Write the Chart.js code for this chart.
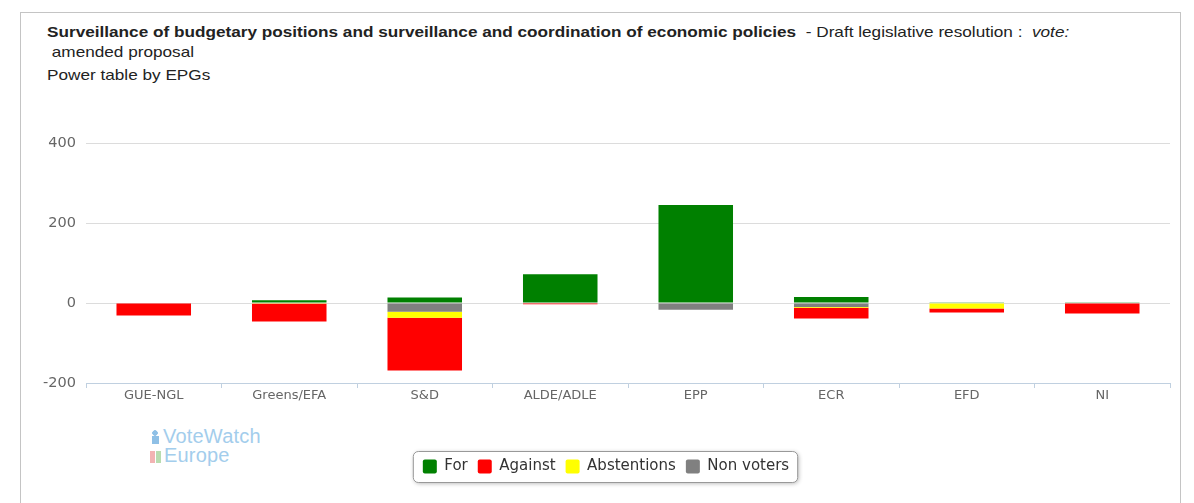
<!DOCTYPE html>
<html>
<head>
<meta charset="utf-8">
<title>Power table by EPGs</title>
<script src="https://cdn.jsdelivr.net/npm/chart.js@4"></script>
<style>
  body { margin: 0; background: #fff; }
  #wrap { position: relative; width: 1194px; height: 503px; overflow: hidden; }
  #frame { position: absolute; left: 20px; top: 12px; width: 1161px; height: 520px;
           border: 1px solid #c4c4c4; box-sizing: border-box; }
  #box { position: absolute; left: 0; top: 0; width: 1194px; height: 503px; }
  .txt { position: absolute; left: 47px; font-family: "Liberation Sans", Arial, sans-serif;
         font-size: 15px; color: #222; white-space: nowrap;
         transform: scaleX(1.145); transform-origin: 0 0; }
  #t1 { top: 23px; }
  #t2 { top: 43px; }
  #t3 { top: 66px; }
  #logo { position: absolute; left: 150px; top: 427px; font-family: "Liberation Sans", Arial, sans-serif;
          font-size: 20px; line-height: 19px; color: #a3cdec; letter-spacing: 0.2px; }
  #logo .ico { display: inline-block; width: 11px; height: 14px; margin-right: 2px; vertical-align: -1px; }
  #logo .man { background: radial-gradient(circle at 5px 3px, #8fc0e6 2.5px, transparent 3px),
                           linear-gradient(#8fc0e6, #8fc0e6) 2px 6px / 7px 8px no-repeat; }
  #logo .flag { background: linear-gradient(90deg, #f2b3b3 0 5px, transparent 5px 6px, #b8dcb0 6px 11px);
                height: 12px; margin-right: 3px; }
</style>
</head>
<body>
<div id="wrap">
  <div id="frame"></div>
  <div class="txt" id="t1"><b>Surveillance of budgetary positions and surveillance and coordination of economic policies</b>&nbsp; - Draft legislative resolution :&nbsp; <i>vote:</i></div>
  <div class="txt" id="t2">&nbsp;amended proposal</div>
  <div class="txt" id="t3">Power table by EPGs</div>
  <div id="logo"><span class="ico man"></span>VoteWatch<br><span class="ico flag"></span>Europe</div>
  <div id="box"><canvas id="chart"></canvas></div>
</div>
<script>
// Political groups and their votes
const categories = ['GUE-NGL', 'Greens/EFA', 'S&D', 'ALDE/ADLE', 'EPP', 'ECR', 'EFD', 'NI'];
const forVotes     = [0, 7, 14, 72, 245, 15, 2, 2];
const againstVotes = [31, 44, 132, 3, 0, 27, 10, 26];
const abstentions  = [0, 2, 15, 0, 0, 2, 14, 0];
const nonVoters    = [0, 0, 22, 0, 17, 10, 0, 0];
const legendOrder  = ['For', 'Against', 'Abstentions', 'Non voters'];

// rounded frame with shadow behind the legend items
const legendBox = {
  id: 'legendBox',
  beforeDraw(chart) {
    const boxes = chart.legend.legendHitBoxes;
    if (!boxes || !boxes.length) return;
    const first = boxes[0], last = boxes[boxes.length - 1];
    const x = first.left - 10, y = first.top - 8;
    const w = last.left + last.width - first.left + 18, h = first.height + 16;
    const ctx = chart.ctx;
    ctx.save();
    ctx.shadowColor = 'rgba(0,0,0,0.3)';
    ctx.shadowBlur = 4;
    ctx.shadowOffsetX = 1;
    ctx.shadowOffsetY = 1;
    ctx.fillStyle = '#fff';
    ctx.strokeStyle = '#999';
    ctx.lineWidth = 1;
    ctx.beginPath();
    ctx.roundRect(x + 0.5, y + 0.5, w, h, 5);
    ctx.fill();
    ctx.shadowColor = 'transparent';
    ctx.stroke();
    ctx.restore();
  }
};

const ctx = document.getElementById('chart').getContext('2d');
new Chart(ctx, {
  type: 'bar',
  data: {
    labels: categories,
    // negative stack grows from zero: non voters, abstentions, then against
    datasets: [
      { label: 'For', data: forVotes, backgroundColor: '#008000' },
      { label: 'Non voters', data: nonVoters.map(v => -v), backgroundColor: '#808080' },
      { label: 'Abstentions', data: abstentions.map(v => -v), backgroundColor: '#ffff00' },
      { label: 'Against', data: againstVotes.map(v => -v), backgroundColor: '#ff0000' },
    ],
  },
  options: {
    responsive: true,
    maintainAspectRatio: false,
    animation: false,
    layout: { padding: { top: 143, right: 24, bottom: 19, left: 42 } },
    datasets: { bar: { categoryPercentage: 0.55, barPercentage: 1, borderWidth: 0 } },
    scales: {
      x: {
        stacked: true,
        grid: { display: true, drawOnChartArea: false, drawTicks: true, tickLength: 5, color: '#c0d0e0', offset: true },
        border: { display: true, color: '#c0d0e0' },
        ticks: { color: '#666', font: { family: 'DejaVu Sans', size: 13 }, padding: 0 },
        afterFit(scale) { scale.height = 66; },
      },
      y: {
        stacked: true,
        min: -200,
        max: 400,
        ticks: { stepSize: 200, color: '#666', font: { family: 'DejaVu Sans', size: 14.5 }, padding: 10 },
        grid: { color: '#dcdcdc', drawTicks: false },
        border: { display: false },
        afterFit(scale) { scale.width = 44; },
      },
    },
    plugins: {
      legend: {
        position: 'bottom',
        labels: {
          color: '#333',
          font: { family: 'DejaVu Sans', size: 15 },
          boxWidth: 14,
          boxHeight: 14,
          useBorderRadius: true,
          borderRadius: 2,
          padding: 10,
          sort: (a, b) => legendOrder.indexOf(a.text) - legendOrder.indexOf(b.text),
        },
      },
      tooltip: { enabled: false },
    },
  },
  plugins: [legendBox],
});
</script>
</body>
</html>
